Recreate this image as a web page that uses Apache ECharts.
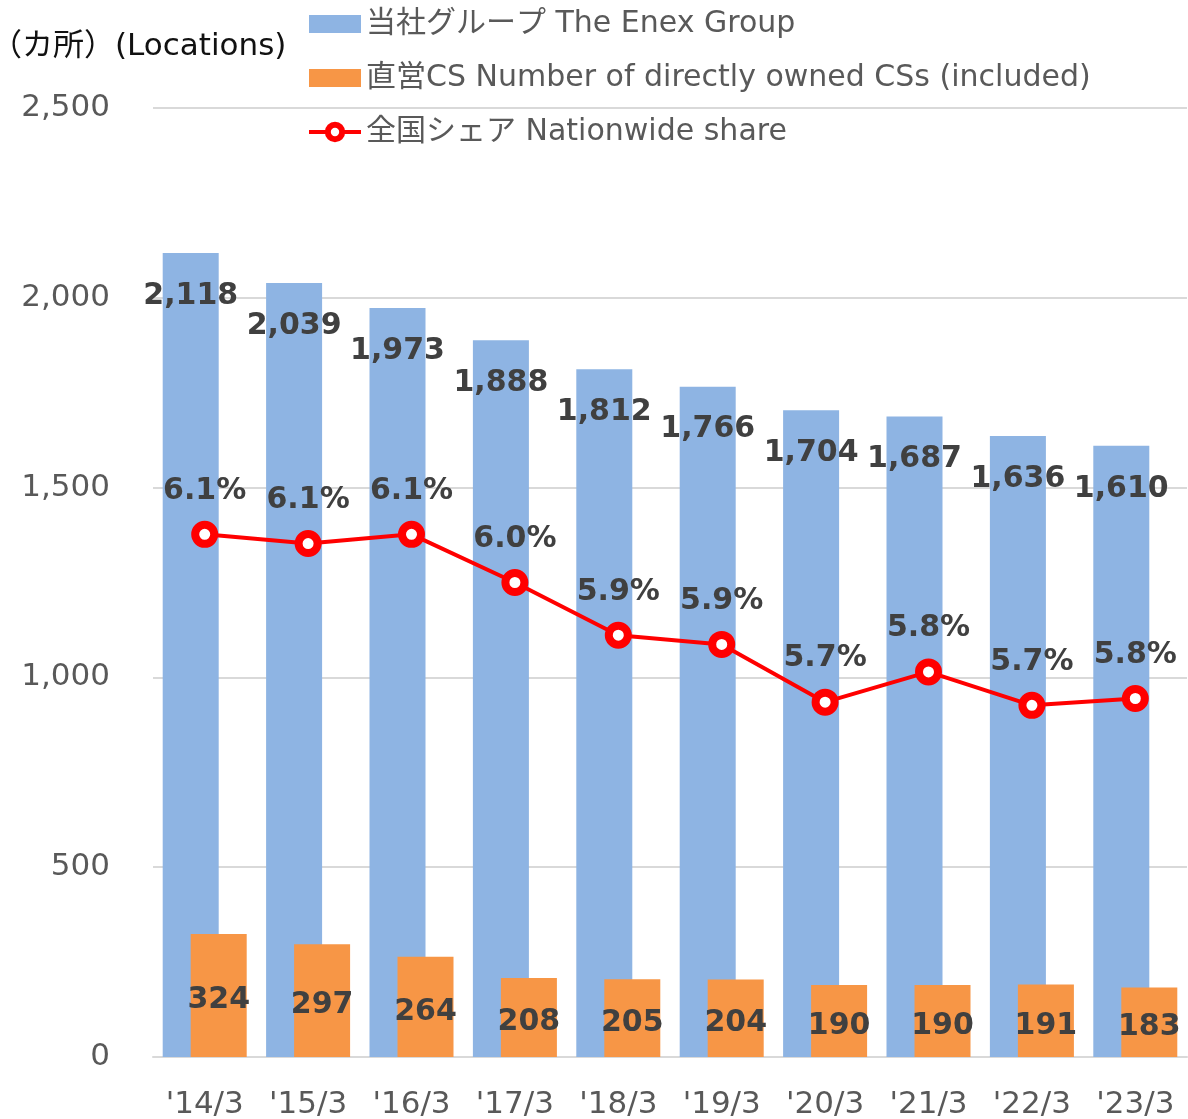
<!DOCTYPE html>
<html>
<head>
<meta charset="utf-8">
<script src="https://cdn.jsdelivr.net/npm/echarts@6/dist/echarts.min.js"></script>
<style>
  html, body { margin: 0; padding: 0; background: #fff; }
  #chart { width: 1188px; height: 1119px; }
</style>
</head>
<body>
<div id="chart"></div>
<script>
const categories = ["'14/3", "'15/3", "'16/3", "'17/3", "'18/3", "'19/3", "'20/3", "'21/3", "'22/3", "'23/3"];
const groupCounts = [2118, 2039, 1973, 1888, 1812, 1766, 1704, 1687, 1636, 1610];
const directCounts = [324, 297, 264, 208, 205, 204, 190, 190, 191, 183];
// nationwide share (%), shown rounded to one decimal
const shareValues = [6.11, 6.09, 6.11, 6.005, 5.89, 5.87, 5.744, 5.81, 5.737, 5.752];
const yTicks = [0, 500, 1000, 1500, 2000, 2500];

const FONT = "'DejaVu Sans', 'Noto Sans CJK JP', sans-serif";
const LABEL = { color: "#404040", fontSize: 30, fontWeight: "bold", fontFamily: FONT };

const chart = echarts.init(document.getElementById("chart"));

chart.setOption({
  animation: false,
  backgroundColor: "#fff",
  textStyle: { fontFamily: FONT },
  title: {
    text: "（カ所）(Locations)",
    left: -9,
    top: 31,
    padding: 0,
    textStyle: { color: "#111", fontSize: 31, fontWeight: "normal", fontFamily: FONT },
  },
  legend: {
    orient: "vertical",
    left: 307,
    top: 6,
    padding: 0,
    itemGap: 18,
    itemWidth: 52,
    itemHeight: 18,
    textStyle: { color: "#595959", fontSize: 30, lineHeight: 36, fontFamily: FONT },
    data: [
      { name: "当社グループ The Enex Group", icon: "rect" },
      { name: "直営CS Number of directly owned CSs (included)", icon: "rect" },
      {
        name: "全国シェア Nationwide share",
        itemStyle: { color: "#fff", borderColor: "#FF0000", borderWidth: 6 },
        lineStyle: { color: "#FF0000", width: 4 },
      },
    ],
  },
  grid: {
    left: 153,
    right: 1,
    top: 108,
    bottom: 62,
    outerBoundsMode: "none",
  },
  xAxis: {
    type: "category",
    data: categories,
    axisTick: { show: false },
    axisLine: { lineStyle: { color: "#D9D9D9", width: 2 } },
    axisLabel: { color: "#595959", fontSize: 31, margin: 32, interval: 0, fontFamily: FONT },
  },
  yAxis: [
    {
      type: "value",
      min: yTicks[0],
      max: yTicks[yTicks.length - 1],
      interval: 500,
      axisLine: { show: false },
      axisTick: { show: false },
      splitLine: { lineStyle: { color: "#D9D9D9", width: 2 } },
      axisLabel: {
        color: "#595959",
        fontSize: 31,
        margin: 43,
        fontFamily: FONT,
        formatter: (v) => v.toLocaleString("en-US"),
      },
    },
    {
      type: "value",
      min: 4.97,
      max: 7.04,
      show: false,
      splitLine: { show: false },
    },
  ],
  series: [
    {
      name: "当社グループ The Enex Group",
      type: "bar",
      data: groupCounts,
      barWidth: 56,
      barGap: "-50%",
      itemStyle: { color: "#8EB4E3" },
      label: {
        show: true,
        position: "insideTop",
        distance: 28,
        ...LABEL,
        formatter: (p) => p.value.toLocaleString("en-US"),
      },
    },
    {
      name: "直営CS Number of directly owned CSs (included)",
      type: "bar",
      data: directCounts,
      barWidth: 56,
      itemStyle: { color: "#F79646" },
      label: {
        show: true,
        position: "inside",
        offset: [0, 5],
        ...LABEL,
      },
    },
    {
      name: "全国シェア Nationwide share",
      type: "line",
      yAxisIndex: 1,
      data: shareValues,
      symbol: "circle",
      symbolSize: 19,
      lineStyle: { color: "#FF0000", width: 4 },
      itemStyle: { color: "#fff", borderColor: "#FF0000", borderWidth: 8 },
      z: 5,
      label: {
        show: true,
        position: "top",
        distance: 15,
        ...LABEL,
        formatter: (p) => p.value.toFixed(1) + "%",
      },
    },
  ],
});
</script>
</body>
</html>
